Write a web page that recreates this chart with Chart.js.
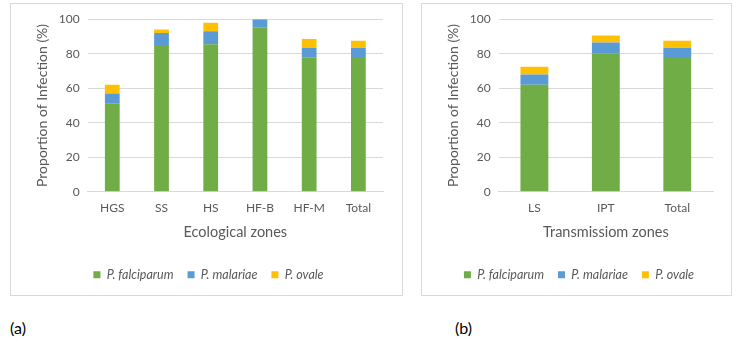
<!DOCTYPE html>
<html>
<head>
<meta charset="utf-8">
<script src="https://cdn.jsdelivr.net/npm/chart.js@4"></script>
<style>
  body { margin: 0; background: #fff; width: 738px; height: 342px; position: relative; overflow: hidden; font-family: Lato, sans-serif; }
  .panel { position: absolute; top: 3px; height: 293px; border: 1px solid #d9d9d9; box-sizing: border-box; }
  #boxA { left: 10px; width: 393px; }
  #boxB { left: 421px; width: 311px; }
  .tag { position: absolute; top: 318px; font-size: 16px; color: #000; }
</style>
</head>
<body>
<div class="panel" id="boxA"><canvas id="chartA"></canvas></div>
<div class="panel" id="boxB"><canvas id="chartB"></canvas></div>
<div class="tag" style="left:10px">(a)</div>
<div class="tag" style="left:455px">(b)</div>
<script>
const seriesNames = ['P. falciparum', 'P. malariae', 'P. ovale'];
const seriesColors = ['#70AD47', '#5B9BD5', '#FFC000'];

// panel (a) - ecological zones
const ecoZones = ['HGS', 'SS', 'HS', 'HF-B', 'HF-M', 'Total'];
const ecoFalciparum = [51, 85, 85.5, 95, 78, 77.5];
const ecoMalariae = [6, 7, 7.5, 5, 5.5, 6];
const ecoOvale = [5, 2, 5, 0, 5, 4];

// panel (b) - transmission zones
const transZones = ['LS', 'IPT', 'Total'];
const transFalciparum = [62, 80, 77.5];
const transMalariae = [6, 6.5, 6];
const transOvale = [4.5, 4, 4];

const yTicks = [0, 20, 40, 60, 80, 100];

function makeChart(id, labels, values, xTitle, barPct, pad) {
    const datasets = values.map((d, i) => ({
        label: seriesNames[i],
        data: d,
        backgroundColor: seriesColors[i],
        categoryPercentage: 1,
        barPercentage: barPct
    }));
    return new Chart(document.getElementById(id).getContext('2d'), {
        type: 'bar',
        data: { labels: labels, datasets: datasets },
        options: {
            responsive: true,
            maintainAspectRatio: false,
            animation: false,
            layout: { padding: pad },
            plugins: {
                legend: {
                    position: 'bottom',
                    labels: {
                        boxWidth: 7,
                        boxHeight: 7,
                        padding: 14,
                        color: '#595959',
                        font: { family: 'Lato', size: 12.5, style: 'italic' }
                    }
                },
                tooltip: { enabled: false }
            },
            scales: {
                x: {
                    stacked: true,
                    grid: { display: false },
                    border: { color: '#d9d9d9' },
                    ticks: { color: '#595959', padding: 1, font: { family: 'Lato', size: 12 } },
                    title: {
                        display: true,
                        text: xTitle,
                        color: '#595959',
                        padding: { top: 8, bottom: 13 },
                        font: { family: 'Lato', size: 14.5 }
                    }
                },
                y: {
                    stacked: true,
                    min: 0,
                    max: 100,
                    afterBuildTicks: axis => { axis.ticks = yTicks.map(v => ({ value: v })); },
                    grid: { color: '#d9d9d9', drawTicks: false },
                    border: { display: false },
                    ticks: { color: '#595959', padding: 8, font: { family: 'Lato', size: 12 } },
                    title: {
                        display: true,
                        text: 'Proportion of Infection (%)',
                        color: '#595959',
                        padding: { top: 0, bottom: 0 },
                        font: { family: 'Lato', size: 14 }
                    }
                }
            }
        }
    });
}

makeChart('chartA', ecoZones, [ecoFalciparum, ecoMalariae, ecoOvale], 'Ecological zones', 0.3,
    { top: 2, right: 19, bottom: 4, left: 23 });
makeChart('chartB', transZones, [transFalciparum, transMalariae, transOvale], 'Transmissiom zones', 0.39,
    { top: 2, right: 18, bottom: 4, left: 23 });
</script>
</body>
</html>
